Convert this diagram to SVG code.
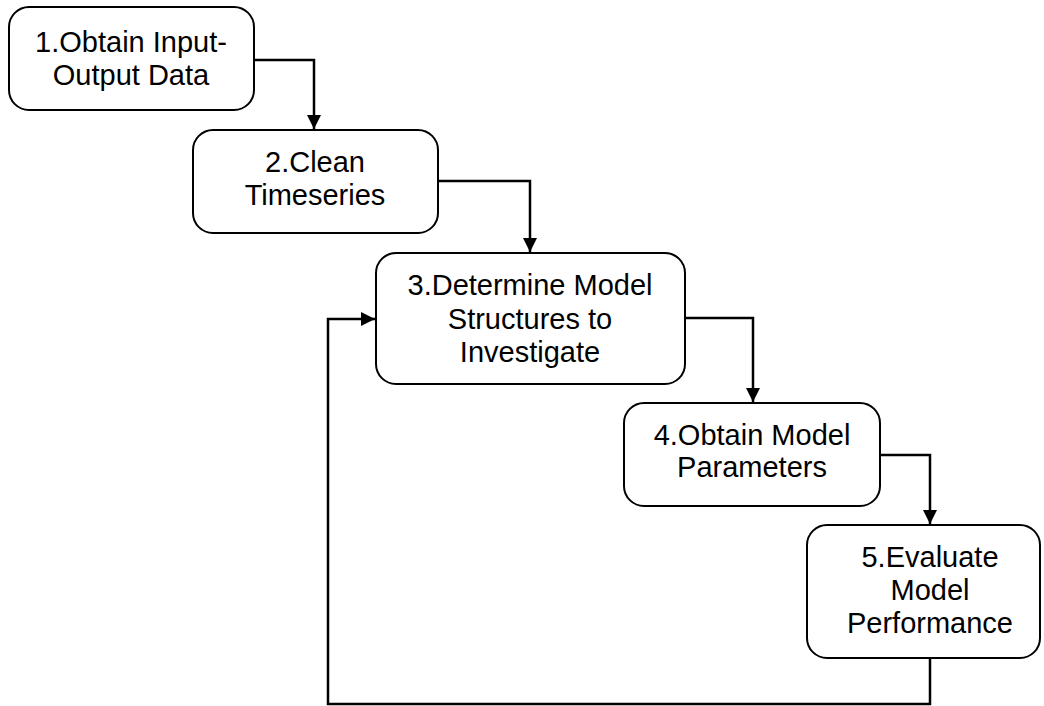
<svg xmlns="http://www.w3.org/2000/svg" width="1044" height="706" viewBox="0 0 1044 706">
  <style>
    .box { fill: #ffffff; stroke: #000000; stroke-width: 2; }
    .lbl { font-family: "Liberation Sans", Arial, sans-serif; font-size: 29px; fill: #000000; text-anchor: middle; }
    .wire { fill: none; stroke: #000000; stroke-width: 2.5; }
  </style>
  <defs>
    <marker id="arrow" markerUnits="userSpaceOnUse" markerWidth="16" markerHeight="16" viewBox="0 0 16 16" refX="14" refY="8" orient="auto">
      <path d="M0,1 L14,8 L0,15 Z" fill="#000000"/>
    </marker>
  </defs>

  <!-- connectors -->
  <g id="connectors">
    <path class="wire" d="M254,60 H314 V129" marker-end="url(#arrow)"/>
    <path class="wire" d="M438,181 H530 V252" marker-end="url(#arrow)"/>
    <path class="wire" d="M685,318 H753 V402" marker-end="url(#arrow)"/>
    <path class="wire" d="M880,455 H930 V524" marker-end="url(#arrow)"/>
    <path class="wire" d="M930,658 V704 H328 V319 H375" marker-end="url(#arrow)"/>
  </g>

  <g id="node1">
    <rect class="box" x="9" y="7" width="245" height="103" rx="20"/>
    <text class="lbl" x="131" y="52">1.Obtain Input-</text>
    <text class="lbl" x="131" y="85">Output Data</text>
  </g>

  <g id="node2">
    <rect class="box" x="193" y="130" width="245" height="103" rx="20"/>
    <text class="lbl" x="315" y="172">2.Clean</text>
    <text class="lbl" x="315" y="205">Timeseries</text>
  </g>

  <g id="node3">
    <rect class="box" x="376" y="253" width="309" height="131" rx="20"/>
    <text class="lbl" x="530" y="295">3.Determine Model</text>
    <text class="lbl" x="530" y="329">Structures to</text>
    <text class="lbl" x="530" y="362">Investigate</text>
  </g>

  <g id="node4">
    <rect class="box" x="624" y="403" width="256" height="103" rx="20"/>
    <text class="lbl" x="752" y="445">4.Obtain Model</text>
    <text class="lbl" x="752" y="477">Parameters</text>
  </g>

  <g id="node5">
    <rect class="box" x="807" y="525" width="233" height="133" rx="20"/>
    <text class="lbl" x="930" y="567">5.Evaluate</text>
    <text class="lbl" x="930" y="600">Model</text>
    <text class="lbl" x="930" y="633">Performance</text>
  </g>
</svg>
